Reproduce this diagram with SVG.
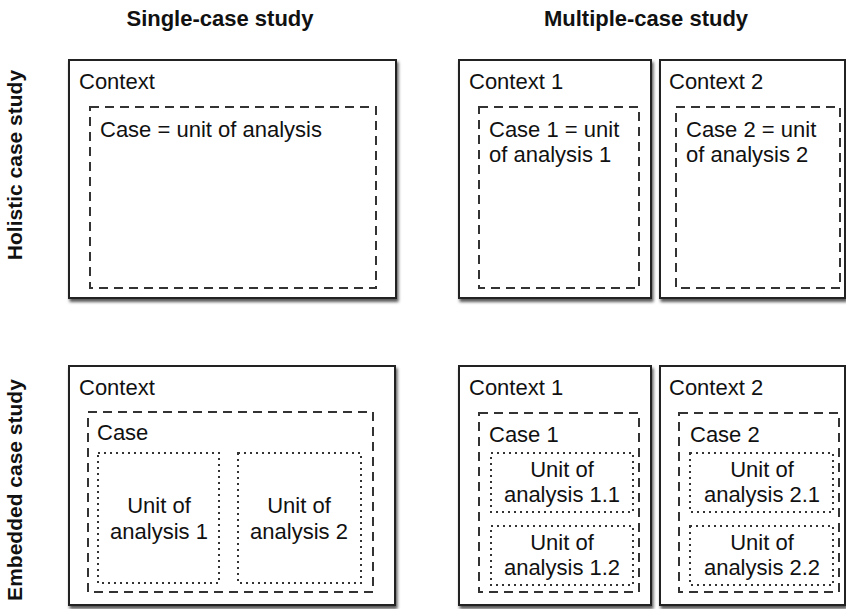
<svg xmlns="http://www.w3.org/2000/svg" width="846" height="609" viewBox="0 0 846 609">
<defs>
<filter id="sh" x="-5%" y="-5%" width="115%" height="115%">
<feDropShadow dx="1.5" dy="3" stdDeviation="1.5" flood-color="#000" flood-opacity="0.65"/>
</filter>
<style>
.ctx{fill:#fff;stroke:#222;stroke-width:2;filter:url(#sh)}
.case{fill:none;stroke:#333;stroke-width:2;stroke-dasharray:9 6}
.unit{fill:none;stroke:#333;stroke-width:2;stroke-dasharray:2 4}
text{font-family:"Liberation Sans",Arial,Helvetica,sans-serif;fill:#111}
.t{font-size:22px}
.c{font-size:22px;text-anchor:middle}
.h{font-size:22px;font-weight:bold;text-anchor:middle}
.v{font-size:21px;font-weight:bold;text-anchor:middle}
</style>
</defs>
<rect width="846" height="609" fill="#fff"/>
<g id="headers">
<text class="h" x="220" y="26">Single-case study</text>
<text class="h" x="646" y="26">Multiple-case study</text>
<text class="v" transform="translate(22,165) rotate(-90)">Holistic case study</text>
<text class="v" transform="translate(22,490) rotate(-90)">Embedded case study</text>
</g>
<g id="connectors"></g>
<g id="holistic-single">
<rect class="ctx" x="69" y="60" width="327" height="238"/>
<text class="t" x="79" y="89">Context</text>
<rect class="case" x="90" y="107" width="286" height="181"/>
<text class="t" x="100" y="137">Case = unit of analysis</text>
</g>
<g id="holistic-multi-1">
<rect class="ctx" x="459" y="60" width="192" height="238"/>
<text class="t" x="469" y="89">Context 1</text>
<rect class="case" x="479" y="107" width="160" height="181"/>
<text class="t" x="489" y="137">Case 1 = unit</text>
<text class="t" x="489" y="162">of analysis 1</text>
</g>
<g id="holistic-multi-2">
<rect class="ctx" x="660" y="60" width="185" height="238"/>
<text class="t" x="669" y="89">Context 2</text>
<rect class="case" x="676" y="107" width="164" height="181"/>
<text class="t" x="686" y="137">Case 2 = unit</text>
<text class="t" x="686" y="162">of analysis 2</text>
</g>
<g id="embedded-single">
<rect class="ctx" x="69" y="366" width="326" height="239"/>
<text class="t" x="79" y="395">Context</text>
<rect class="case" x="88" y="412" width="285" height="180"/>
<text class="t" x="97" y="440">Case</text>
<rect class="unit" x="98" y="453" width="121" height="130"/>
<text class="c" x="159" y="513">Unit of</text>
<text class="c" x="159" y="539">analysis 1</text>
<rect class="unit" x="238" y="453" width="123" height="130"/>
<text class="c" x="299" y="513">Unit of</text>
<text class="c" x="299" y="539">analysis 2</text>
</g>
<g id="embedded-multi-1">
<rect class="ctx" x="459" y="366" width="192" height="239"/>
<text class="t" x="469" y="395">Context 1</text>
<rect class="case" x="479" y="413" width="160" height="179"/>
<text class="t" x="489" y="442">Case 1</text>
<rect class="unit" x="491" y="453" width="142" height="59"/>
<text class="c" x="562" y="477">Unit of</text>
<text class="c" x="562" y="502">analysis 1.1</text>
<rect class="unit" x="491" y="526" width="142" height="59"/>
<text class="c" x="562" y="550">Unit of</text>
<text class="c" x="562" y="575">analysis 1.2</text>
</g>
<g id="embedded-multi-2">
<rect class="ctx" x="660" y="366" width="185" height="239"/>
<text class="t" x="669" y="395">Context 2</text>
<rect class="case" x="679" y="413" width="160" height="179"/>
<text class="t" x="690" y="442">Case 2</text>
<rect class="unit" x="690" y="453" width="143" height="59"/>
<text class="c" x="762" y="477">Unit of</text>
<text class="c" x="762" y="502">analysis 2.1</text>
<rect class="unit" x="690" y="526" width="143" height="59"/>
<text class="c" x="762" y="550">Unit of</text>
<text class="c" x="762" y="575">analysis 2.2</text>
</g>
</svg>
